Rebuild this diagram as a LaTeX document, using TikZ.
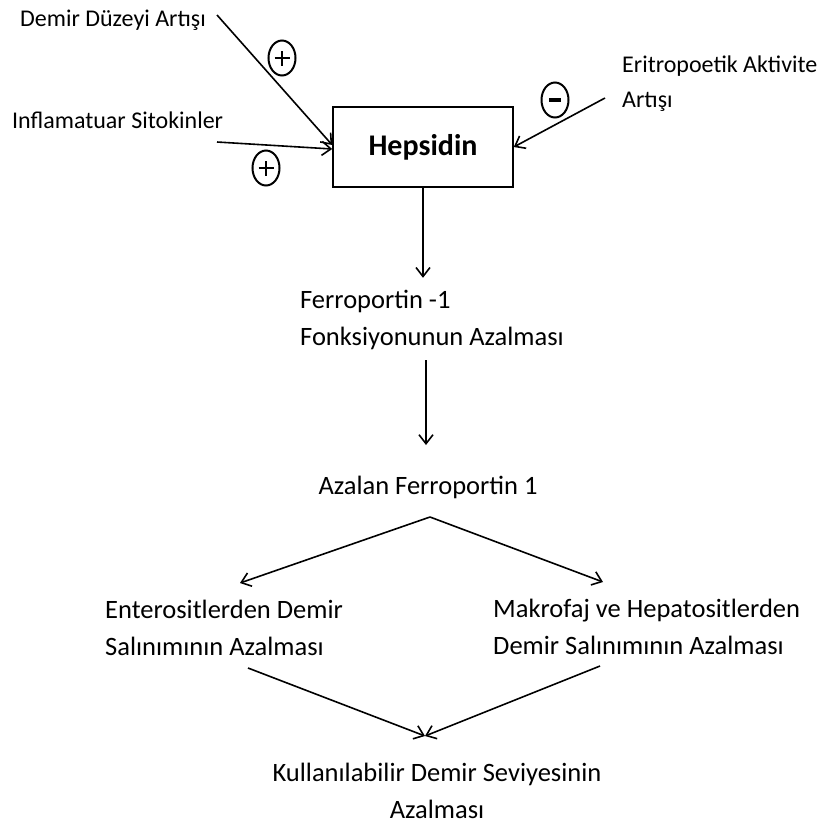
\documentclass[tikz,border=0pt]{standalone}
\usepackage{fontspec}
\setmainfont{Carlito}
\usetikzlibrary{arrows.meta,shapes.geometric}
\begin{document}
\begin{tikzpicture}[x=1pt,y=-1pt,
  lbl/.style={inner sep=0pt,font=\fontsize{24}{35}\selectfont},
  big/.style={inner sep=0pt,font=\fontsize{26.5}{37}\selectfont},
  conn/.style={line width=1.6pt,-{Straight Barb[length=9pt,width=14pt,line width=1.6pt]}},
  sign/.style={ellipse,draw,line width=2pt,minimum width=27pt,minimum height=35pt,inner sep=0pt},
  plussign/.style={sign,path picture={
    \draw[line width=2.8pt] ([xshift=-7.5pt]path picture bounding box.center) -- ([xshift=7.5pt]path picture bounding box.center);
    \draw[line width=2.8pt] ([yshift=-7.5pt]path picture bounding box.center) -- ([yshift=7.5pt]path picture bounding box.center);}},
  minussign/.style={sign,path picture={
    \draw[line width=4pt] ([xshift=-6pt]path picture bounding box.center) -- ([xshift=6pt]path picture bounding box.center);}}]
\useasboundingbox (0,0) rectangle (818,831);
\node[draw,line width=1.6pt,minimum width=180pt,minimum height=80pt,inner sep=0pt,font=\fontsize{30}{30}\selectfont\bfseries] (hep) at (423,147) {Hepsidin};
\node[lbl,anchor=west] (demir) at (20,20) {Demir Düzeyi Artışı};
\node[lbl,anchor=west] (infl) at (12,120) {Inflamatuar Sitokinler};
\node[lbl,anchor=west,align=left] (eri) at (622,84) {Eritropoetik Aktivite\\Artışı};
\node[plussign] (p1) at (282,58) {};
\node[plussign] (p2) at (266,168) {};
\node[minussign] (m1) at (555,100) {};
\coordinate (dA) at (217,15);
\coordinate (iA) at (217,142);
\coordinate (eA) at (605,98);
\draw[conn] (dA) -- ([yshift=2pt]hep.west);
\draw[conn] (iA) -- ([yshift=-2pt]hep.west);
\draw[conn] (eA) -- (hep.east);
\node[big,anchor=west,align=left] (fer) at (300,320) {Ferroportin -1\\Fonksiyonunun Azalması};
\draw[conn] (hep.south) -- ++(0,90);
\node[big] (az) at (428,487) {Azalan Ferroportin 1};
\coordinate (f1) at (426,360);
\draw[conn] (f1) -- (426,445);
\node[big,anchor=west,align=left] (ent) at (105,628) {Enterositlerden Demir\\Salınımının Azalması};
\node[big,anchor=west,align=left] (mak) at (493,627) {Makrofaj ve Hepatositlerden\\Demir Salınımının Azalması};
\coordinate (split) at (430,517);
\draw[conn] (split) -- (240,583);
\draw[conn] (split) -- (603,582);
\node[big,align=center] (kul) at (437,791) {Kullanılabilir Demir Seviyesinin\\Azalması};
\coordinate (join) at (425,736);
\draw[conn] (248,668) -- (join);
\draw[conn] (600,666) -- (join);
\end{tikzpicture}
\end{document}
